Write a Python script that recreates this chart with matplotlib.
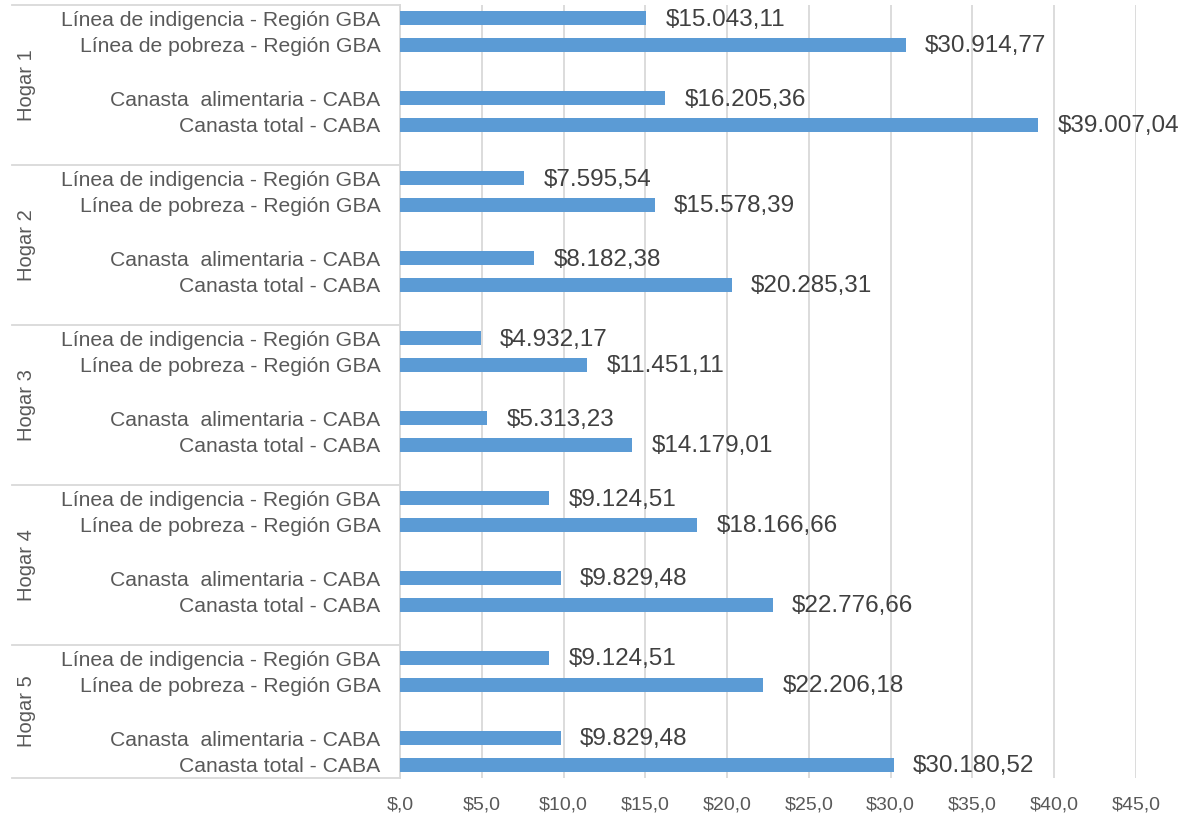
import numpy as np
import matplotlib.pyplot as plt
import matplotlib.transforms as mtransforms
from matplotlib.lines import Line2D

plt.rcParams['font.family'] = ['Liberation Sans', 'DejaVu Sans']

# Data (pesos)
hogares = ["Hogar 1", "Hogar 2", "Hogar 3", "Hogar 4", "Hogar 5"]
categorias = ["Línea de indigencia - Región GBA",
              "Línea de pobreza - Región GBA",
              "Canasta  alimentaria - CABA",
              "Canasta total - CABA"]
indigencia = [15043.11, 7595.54, 4932.17, 9124.51, 9124.51]
pobreza = [30914.77, 15578.39, 11451.11, 18166.66, 22206.18]
alimentaria = [16205.36, 8182.38, 5313.23, 9829.48, 9829.48]
total = [39007.04, 20285.31, 14179.01, 22776.66, 30180.52]
x_ticks = [0, 5, 10, 15, 20, 25, 30, 35, 40, 45]

bar_color = "#5B9BD5"
grid_color = "#D9D9D9"
tick_color = "#595959"
label_color = "#404040"

def fmt_label(v):
    s = f"{v:,.2f}".replace(",", "X").replace(".", ",").replace("X", ".")
    return "$" + s

def fmt_tick(v):
    if v == 0:
        return "$,0"
    return "$" + f"{v:.1f}".replace(".", ",")

fig = plt.figure(figsize=(11.83, 8.24), dpi=100)
ax = fig.add_axes([400/1183, 1 - 778/824, 736/1183, 773/824])

# slot positions: 6 slots per group, blank between pairs
offsets = [0, 1, 3, 4]
positions, values, names = [], [], []
for g in range(len(hogares)):
    vals = [indigencia[g], pobreza[g], alimentaria[g], total[g]]
    for k, off in enumerate(offsets):
        positions.append(g * 6 + off)
        values.append(vals[k])
        names.append(categorias[k])

positions = np.array(positions)
values_k = np.array(values) / 1000.0

ax.barh(positions, values_k, height=0.52, color=bar_color, zorder=3)
for p, v, raw in zip(positions, values_k, values):
    ax.annotate(fmt_label(raw), xy=(v, p), xytext=(14, -1), textcoords="offset points",
                va="center", ha="left", fontsize=17.5, color=label_color)

ax.set_ylim(28.5, -0.5)
ax.set_xlim(0, 45)
ax.set_yticks(positions)
ax.set_yticklabels(names, fontsize=15.2, color=tick_color)
ax.tick_params(axis="y", length=0, pad=14)
ax.set_xticks(x_ticks)
ax.set_xticklabels([fmt_tick(t) for t in x_ticks], fontsize=14, color=tick_color)
ax.tick_params(axis="x", length=0, pad=13)

ax.grid(axis="x", color=grid_color, linewidth=1.3, zorder=0)
for s in ["top", "right", "bottom"]:
    ax.spines[s].set_visible(False)
ax.spines["left"].set_color(grid_color)
ax.spines["left"].set_linewidth(1.3)

# multi-level category separators and group labels
trans = mtransforms.blended_transform_factory(fig.transFigure, ax.transData)
for g in range(len(hogares) + 1):
    y = g * 6 - 0.5 if g < len(hogares) else 28.5
    fig.add_artist(Line2D([12/1183, 400/1183], [y, y], transform=trans,
                          color=grid_color, linewidth=1.3))
for g, h in enumerate(hogares):
    top = g * 6 - 0.5
    bottom = min(g * 6 + 5.5, 28.5)
    fig.text(26/1183, (top + bottom) / 2, h, transform=trans, rotation=90,
             ha="center", va="center", fontsize=14.5, color=tick_color)

fig.savefig("out.png", dpi=100)
